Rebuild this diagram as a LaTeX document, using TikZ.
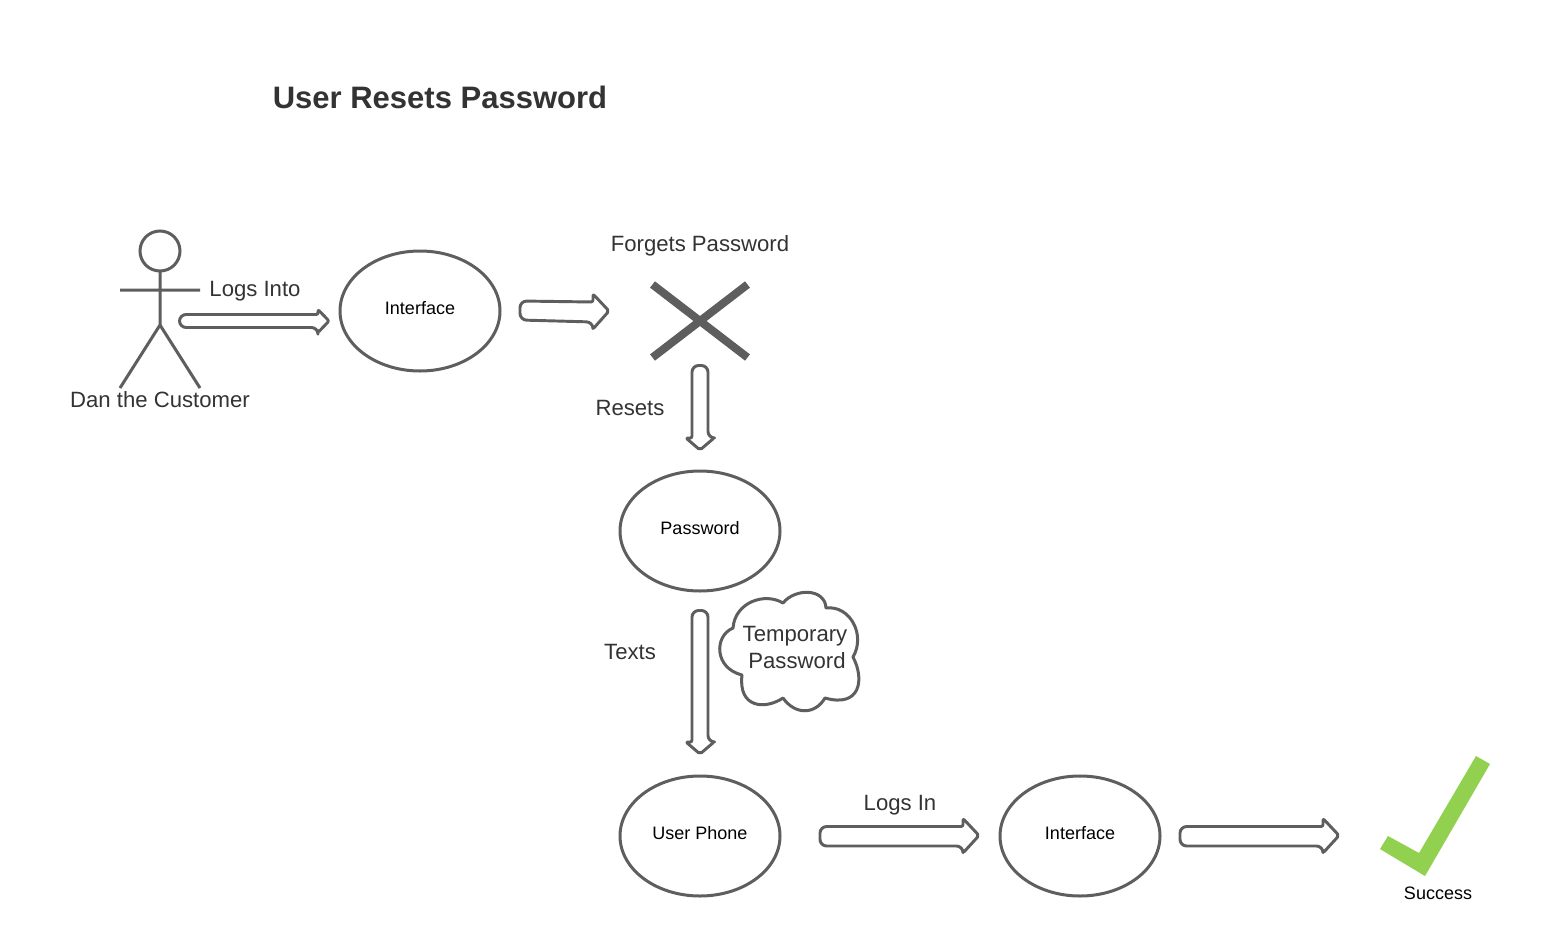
\documentclass[tikz,border=0pt]{standalone}
\usepackage{fontspec}
\setmainfont{Liberation Sans}
\usetikzlibrary{shapes.geometric}
\definecolor{lineg}{HTML}{5E5E5E}
\definecolor{txt}{HTML}{333333}
\definecolor{okgreen}{HTML}{92D050}
\tikzset{
  x=0.75pt,y=-0.75pt,
  outline/.style={draw=lineg,line width=2.25pt,fill=white,line join=round},
  oval/.style={ellipse,draw=lineg,line width=2.25pt,fill=white,minimum width=120pt,minimum height=90pt,inner sep=0pt,
    font=\fontsize{13.5pt}{16pt}\selectfont,text=black,text height=.7em,text depth=.19em},
  lbl/.style={font=\fontsize{16.6pt}{20pt}\selectfont,text=txt,inner sep=0pt,align=center},
  thin arrow/.style={outline,line width=2.2pt},
}
% horizontal block arrow: x-left, x-headbase, x-tip, y-top, y-bottom, y-headtop, y-headbottom, y-tip
\newcommand{\harrow}[8]{%
  \draw[thin arrow] (#2,#4) [rounded corners=5pt] -- (#1,#4) -- (#1,#5) -- (#2,#5) [rounded corners=1.5pt] -- (#2,#7) -- (#3,#8) -- (#2,#6) -- cycle;}
% vertical block arrow: y-top, y-headbase, y-tip, x-left, x-right, x-headleft, x-headright, x-tip
\newcommand{\varrow}[8]{%
  \draw[thin arrow] (#4,#2) [rounded corners=5pt] -- (#4,#1) -- (#5,#1) -- (#5,#2) [rounded corners=1.5pt] -- (#7,#2) -- (#8,#3) -- (#6,#2) -- cycle;}
\begin{document}
\begin{tikzpicture}
\useasboundingbox (0,0) rectangle (1561,946);
\fill[white] (0,0) rectangle (1561,946);

\node[font=\bfseries\fontsize{23.25pt}{28pt}\selectfont,text=txt,inner sep=0pt] (title) at (440,97.5) {User Resets Password};

% actor
\draw[lineg,line width=2.25pt] (160,251) circle[radius=20];
\coordinate (neck) at (160,271);
\coordinate (hip) at (160,325);
\coordinate (armL) at (120,290);
\coordinate (armR) at (200,290);
\coordinate (footL) at (120,388);
\coordinate (footR) at (200,388);
\draw[lineg,line width=2.25pt] (neck) -- (hip) (armL) -- (armR) (footL) -- (hip) -- (footR);
\node[lbl] (dan) at (160,399.5) {Dan the Customer};
\node[lbl] (logsinto) at (255,291) {Logs Into};

% ovals
\node[oval] (iface1) at (420,311) {Interface};
\node[oval] (pass) at (700,531) {Password};
\node[oval] (phone) at (700,836) {User Phone};
\node[oval] (iface2) at (1080,836) {Interface};

% block arrows
\harrow{179.5}{318}{329}{314.5}{327.5}{309.5}{332.5}{321}
\draw[thin arrow] (593,302) [rounded corners=5pt] -- (520,301) -- (520,320) -- (593,322) [rounded corners=1.5pt] -- (593,329) -- (609,311) -- (593,294) -- cycle;
\varrow{365.5}{438}{450}{692}{708}{686}{714}{700}
\varrow{610.5}{742}{754}{692}{708}{686}{714}{700}
\harrow{820}{963}{979}{826.5}{846}{818.5}{853}{835.5}
\harrow{1180}{1323}{1339}{826.5}{846}{818.5}{853}{835.5}

% cross
\coordinate (xa) at (652.5,284.5);
\coordinate (xb) at (747.5,357.5);
\coordinate (xc) at (747.5,284.5);
\coordinate (xd) at (652.5,357.5);
\draw[lineg,line width=6pt] (xa) -- (xb) (xc) -- (xd);
\node[lbl] (forgets) at (700,246) {Forgets Password};
\node[lbl] (resets) at (630,408) {Resets};
\node[lbl] (texts) at (630,651.5) {Texts};
\node[lbl] (logsin) at (900,805.5) {Logs In};

% cloud
\draw[outline] (733,628)
  .. controls (735,602) and (765,592) .. (783,603)
  .. controls (795,588) and (825,588) .. (826,608)
  .. controls (850,605) and (866,635) .. (853,657)
  .. controls (865,680) and (860,708) .. (825,698)
  .. controls (815,715) and (795,715) .. (783,698)
  .. controls (765,710) and (738,708) .. (742,675)
  .. controls (714,668) and (714,636) .. (733,628) -- cycle;
\node[lbl] (temp1) at (795,636.5) {Temporary};
\node[lbl] (temp2) at (797,660.5) {Password};

% check mark
\fill[okgreen] (1476,756) -- (1490,764) -- (1425,876) -- (1380,849) -- (1388,836) -- (1419,853) -- cycle;
\node[font=\fontsize{13.5pt}{16pt}\selectfont,text=black,inner sep=0pt] (success) at (1438,893) {Success};
\end{tikzpicture}
\end{document}
